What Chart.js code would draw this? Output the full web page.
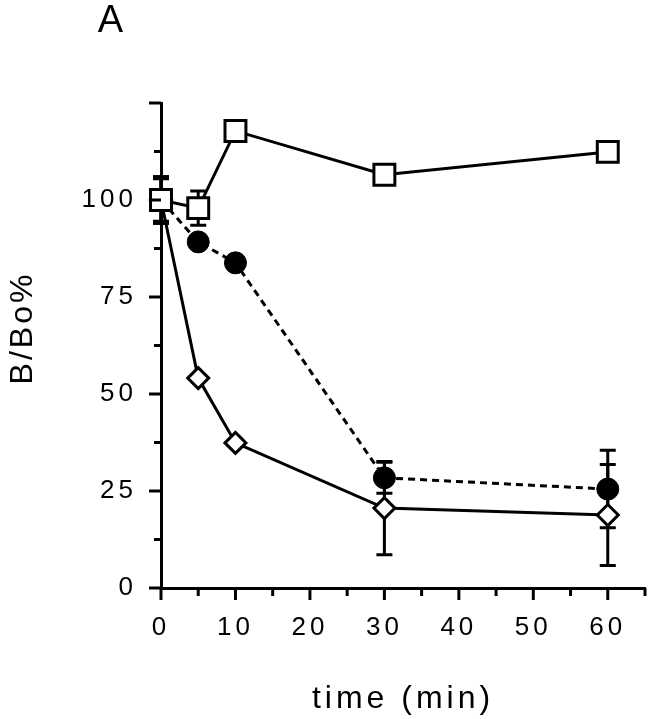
<!DOCTYPE html>
<html>
<head>
<meta charset="utf-8">
<script src="https://cdn.jsdelivr.net/npm/chart.js@4.4.1/dist/chart.umd.min.js"></script>
<style>
  html, body { margin:0; padding:0; background:#fff; }
</style>
</head>
<body>
<canvas id="chart" width="653" height="719"></canvas>
<script>
const times       = [0, 5, 10, 30, 60];
const squareVals  = [100, 97.9, 117.8, 106.5, 112.4];
const squareErr   = [6, 4.4, 0, 0, 0];
const circleVals  = [100, 89.2, 83.8, 28.4, 25.5];
const circleErr   = [6, 0, 0, 4, 10];
const diamondVals = [100, 54.1, 37.4, 20.6, 18.8];
const diamondErr  = [5.5, 0, 0, 12, 13];
const xLabels     = [0, 10, 20, 30, 40, 50, 60];
const yLabels     = [0, 25, 50, 75, 100];

const FONT = "'Liberation Sans', Arial, sans-serif";
const pts = vals => times.map((t, i) => ({ x: t, y: vals[i] }));

/* error bars, ticks and extra text */
const extras = {
  id: 'extras',
  beforeDraw(chart) { chart.ctx.letterSpacing = '4px'; },
  beforeDatasetsDraw(chart) {
    const { ctx, scales: { x, y } } = chart;
    ctx.save();
    ctx.strokeStyle = '#000';
    ctx.lineWidth = 3;
    [squareErr, circleErr, diamondErr].forEach((errs, k) => {
      const vals = [squareVals, circleVals, diamondVals][k];
      errs.forEach((e, i) => {
        if (!e) return;
        const px = x.getPixelForValue(times[i]);
        const hi = y.getPixelForValue(vals[i] + e);
        const lo = y.getPixelForValue(vals[i] - e);
        ctx.beginPath();
        ctx.moveTo(px, hi); ctx.lineTo(px, lo);
        ctx.moveTo(px - 8, hi); ctx.lineTo(px + 8, hi);
        ctx.moveTo(px - 8, lo); ctx.lineTo(px + 8, lo);
        ctx.stroke();
      });
    });
    ctx.restore();
  },
  afterDraw(chart) {
    const { ctx, chartArea: a, scales: { x, y } } = chart;
    ctx.save();
    ctx.strokeStyle = '#000';
    ctx.lineWidth = 3;
    ctx.beginPath();
    x.ticks.forEach(t => {
      const px = x.getPixelForValue(t.value);
      const len = t.value % 10 === 0 ? 12 : 8;
      ctx.moveTo(px, a.bottom); ctx.lineTo(px, a.bottom + len);
    });
    y.ticks.forEach(t => {
      const py = y.getPixelForValue(t.value);
      const len = t.value % 25 === 0 ? 12 : 7;
      ctx.moveTo(a.left, py); ctx.lineTo(a.left - len, py);
    });
    ctx.stroke();

    ctx.fillStyle = '#000';
    ctx.letterSpacing = '3px';
    ctx.textAlign = 'center';
    ctx.textBaseline = 'middle';
    ctx.font = '38px ' + FONT;
    ctx.fillText('A', 112, 22);
    ctx.translate(23, 328);
    ctx.rotate(-Math.PI / 2);
    ctx.font = '32px ' + FONT;
    ctx.fillText('B/Bo%', 0, 0);
    ctx.restore();
  }
};

new Chart(document.getElementById('chart'), {
  type: 'line',
  data: {
    datasets: [
      { data: pts(squareVals), borderColor: '#000', borderWidth: 3,
        pointStyle: 'rect', pointRadius: 14.8, pointBorderWidth: 3,
        pointBackgroundColor: '#fff', pointBorderColor: '#000', clip: false },
      { data: pts(circleVals), borderColor: '#000', borderWidth: 3, borderDash: [7, 5],
        pointStyle: 'circle', pointRadius: 11, pointBorderWidth: 1,
        pointBackgroundColor: '#000', pointBorderColor: '#000', clip: false },
      { data: pts(diamondVals), borderColor: '#000', borderWidth: 3,
        pointStyle: 'rectRot', pointRadius: 10.5, pointBorderWidth: 3,
        pointBackgroundColor: '#fff', pointBorderColor: '#000', clip: false }
    ]
  },
  options: {
    responsive: false,
    devicePixelRatio: 1,
    animation: false,
    layout: { autoPadding: false, padding: { top: 103, right: 8, left: 0, bottom: 0 } },
    plugins: { legend: { display: false }, tooltip: { enabled: false } },
    scales: {
      x: {
        type: 'linear', min: 0, max: 65,
        grid: { display: false, drawTicks: false },
        border: { display: true, color: '#000', width: 3 },
        ticks: {
          stepSize: 5, autoSkip: false, maxRotation: 0, padding: 24,
          color: '#000', font: { family: FONT, size: 26 },
          callback: v => xLabels.includes(v) ? String(v) : ''
        },
        title: { display: true, text: 'time (min)', color: '#000',
                 font: { family: FONT, size: 32 }, padding: { top: 0, bottom: 1 } },
        afterFit: s => { s.height = 131; s.paddingLeft = 0; s.paddingRight = 0; }
      },
      y: {
        min: 0, max: 125,
        grid: { display: false, drawTicks: false },
        border: { display: true, color: '#000', width: 3 },
        ticks: {
          stepSize: 12.5, autoSkip: false, padding: 24,
          color: '#000', font: { family: FONT, size: 26 },
          callback: v => yLabels.includes(v) ? String(v) : ''
        },
        afterFit: s => { s.width = 161; s.paddingTop = 0; s.paddingBottom = 0; }
      }
    }
  },
  plugins: [extras]
});
</script>
</body>
</html>
